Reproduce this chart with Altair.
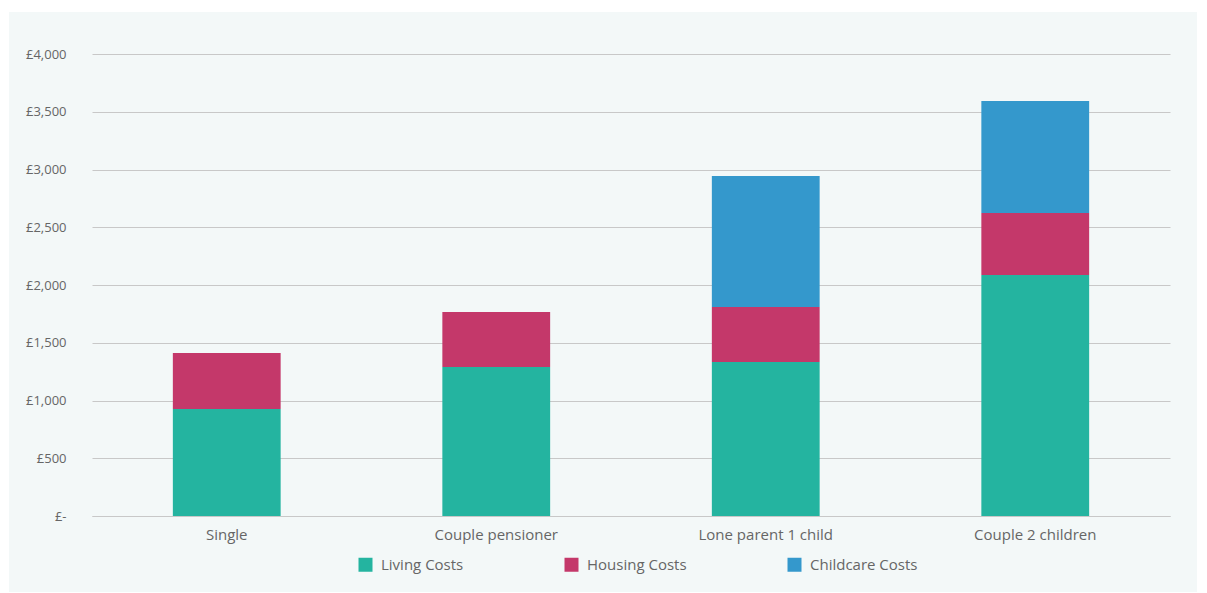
import altair as alt
import pandas as pd

households = ["Single", "Couple pensioner", "Lone parent 1 child", "Couple 2 children"]
cost_types = ["Living Costs", "Housing Costs", "Childcare Costs"]
living = [926, 1290, 1333, 2087]
housing = [485, 476, 477, 536]
childcare = [0, 0, 1134, 970]
colors = ["#24b4a0", "#c4386a", "#3498cc"]

rows = []
for i, h in enumerate(households):
    for j, (ct, vals) in enumerate(zip(cost_types, [living, housing, childcare])):
        rows.append({"household": h, "cost": ct, "value": vals[i], "order": j})
df = pd.DataFrame(rows)

FONT = "Open Sans"
GREY = "#666666"

one = pd.DataFrame({"a": [0]})
# white frame around the tinted panel (plot origin is at 92,54)
frame = [
    alt.Chart(one).mark_rect(color="white", clip=False).encode(
        x=alt.value(-92), x2=alt.value(-83), y=alt.value(-54), y2=alt.value(539)),
    alt.Chart(one).mark_rect(color="white", clip=False).encode(
        x=alt.value(-92), x2=alt.value(1115), y=alt.value(-54), y2=alt.value(-42)),
    alt.Chart(one).mark_rect(color="white", clip=False).encode(
        x=alt.value(1105), x2=alt.value(1115), y=alt.value(-54), y2=alt.value(539)),
    alt.Chart(one).mark_rect(color="white", clip=False).encode(
        x=alt.value(-92), x2=alt.value(1115), y=alt.value(538), y2=alt.value(539)),
]

bars = alt.Chart(df).mark_bar().encode(
    x=alt.X("household:N", sort=households, title=None,
            scale=alt.Scale(paddingInner=0.6, paddingOuter=0.3),
            axis=alt.Axis(labelAngle=0, labelFont=FONT, labelFontSize=15, labelColor=GREY,
                          ticks=False, domainColor="#c8c8c8", labelPadding=11, grid=False)),
    y=alt.Y("value:Q", stack="zero", title=None,
            scale=alt.Scale(domain=[0, 4000]),
            axis=alt.Axis(values=[0, 500, 1000, 1500, 2000, 2500, 3000, 3500, 4000],
                          labelExpr="datum.value == 0 ? '£-' : '£' + format(datum.value, ',')",
                          labelFont=FONT, labelFontSize=13, labelColor=GREY,
                          ticks=False, domain=False, gridColor="#c8c8c8", labelPadding=26)),
    color=alt.Color("cost:N", sort=cost_types,
                    scale=alt.Scale(domain=cost_types, range=colors),
                    legend=alt.Legend(title=None, orient="none", legendX=266, legendY=503,
                                      direction="horizontal", columns=3, columnPadding=100,
                                      symbolType="square", symbolSize=196, symbolStrokeWidth=0,
                                      labelFont=FONT, labelFontSize=15, labelColor=GREY,
                                      labelOffset=8)),
    order=alt.Order("order:Q"),
)

chart = alt.layer(bars, *frame).properties(
    width=1078, height=462,
    autosize=alt.AutoSizeParams(type="none"),
    padding={"left": 92, "top": 54, "right": 37, "bottom": 77},
    background="#f3f8f8",
).configure_view(stroke=None)

chart.save("out.html", embed_options={"renderer": "svg", "actions": False})
